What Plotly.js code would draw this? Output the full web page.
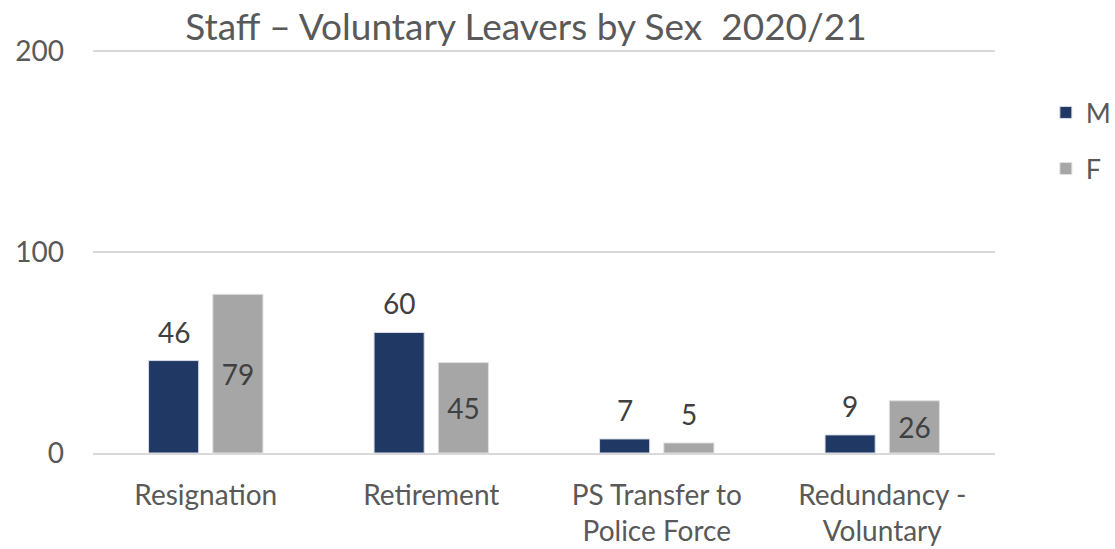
<!DOCTYPE html>
<html>
<head>
<meta charset="utf-8">
<script src="https://cdn.plot.ly/plotly-3.0.1.min.js"></script>
<style>html,body{margin:0;padding:0;background:#fff;}#chart{width:1115px;height:549px;}</style>
</head>
<body>
<div id="chart"></div>
<script>
const categories = ["Resignation", "Retirement", "PS Transfer to<br>Police Force", "Redundancy -<br>Voluntary"];
const maleValues = [46, 60, 7, 9];
const femaleValues = [79, 45, 5, 26];
const yTickVals = [0, 100, 200];
const yTickText = ["0", "100", "200"];

const FONT = "Lato, 'Open Sans', sans-serif";
const textCol = "#404040";
const tickCol = "#595959";
const LABEL_SIZE = 28;
const SMALL_BAR = 15; // bars shorter than this get their label above the bar

// Female labels: inside (middle) when the bar is tall enough, otherwise drawn above it
const femalePos = femaleValues.map(v => v >= SMALL_BAR ? "inside" : "none");

const traces = [
  {
    type: "bar", name: "M", x: categories, y: maleValues,
    textposition: "none",
    marker: {color: "#1f3864", line: {color: "#d9dde6", width: 1}},
    cliponaxis: false, legendgroup: "m"
  },
  {
    type: "bar", name: "F", x: categories, y: femaleValues,
    text: femaleValues.map(String), textposition: femalePos, insidetextanchor: "middle",
    insidetextfont: {family: FONT, size: LABEL_SIZE, color: textCol},
    constraintext: "none",
    marker: {color: "#a6a6a6", line: {color: "#e0e0e0", width: 1}},
    cliponaxis: false, legendgroup: "f"
  }
];

// Outside labels placed on the data coordinates via the axis scales
const annotations = [];
categories.forEach((c, i) => {
  annotations.push({x: c, y: maleValues[i], xref: "x", yref: "y", text: String(maleValues[i]),
    showarrow: false, yanchor: "bottom", xshift: -32, yshift: 10,
    font: {family: FONT, size: LABEL_SIZE, color: textCol}});
  if (femaleValues[i] < SMALL_BAR) {
    annotations.push({x: c, y: femaleValues[i], xref: "x", yref: "y", text: String(femaleValues[i]),
      showarrow: false, yanchor: "bottom", xshift: 32, yshift: 10,
      font: {family: FONT, size: LABEL_SIZE, color: textCol}});
  }
});

const layout = {
  width: 1115, height: 549,
  margin: {l: 93, r: 120, t: 50, b: 96},
  paper_bgcolor: "#fff", plot_bgcolor: "#fff",
  font: {family: FONT, color: tickCol},
  title: {text: "Staff – Voluntary Leavers by Sex  2020/21", x: 0.48, xanchor: "center", xref: "paper",
          y: 0.95, yanchor: "middle", yref: "container",
          font: {family: FONT, size: 37, color: tickCol}},
  barmode: "group", bargap: 0.43, bargroupgap: 0.22,
  showlegend: true,
  legend: {x: 0.938, xanchor: "left", xref: "container", y: 0.839, yanchor: "top", yref: "container",
           font: {family: FONT, size: 27, color: tickCol},
           traceorder: "grouped", tracegroupgap: 18, itemwidth: 30},
  annotations: annotations,
  xaxis: {type: "category", showgrid: false, showline: true, linecolor: "#d9d9d9", linewidth: 2,
          ticks: "", tickfont: {family: FONT, size: 28, color: tickCol}, ticklabelstandoff: 16,
          fixedrange: true, automargin: false},
  yaxis: {range: [0, 200.6], tickvals: yTickVals, ticktext: yTickText, showgrid: true,
          gridcolor: "#d9d9d9", gridwidth: 2, zeroline: false, showline: false,
          ticks: "", tickfont: {family: FONT, size: 28, color: tickCol}, ticklabelstandoff: 28,
          fixedrange: true, automargin: false}
};

Plotly.newPlot("chart", traces, layout, {displayModeBar: false, staticPlot: true});
</script>
</body>
</html>
